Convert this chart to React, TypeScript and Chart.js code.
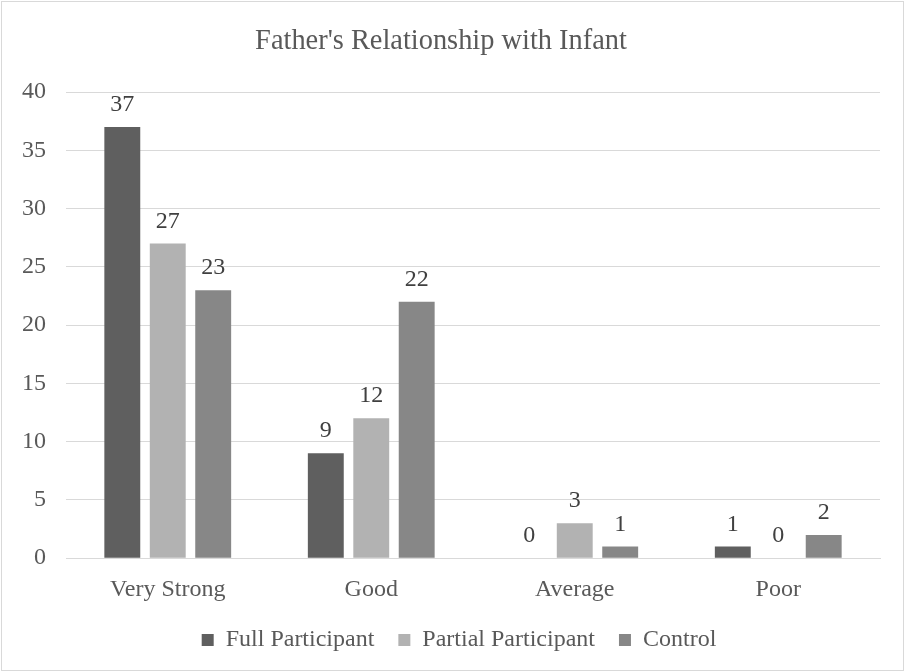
import React, { useEffect, useRef } from "react";
import { Chart, registerables } from "chart.js";

Chart.register(...registerables);

const categories = ["Very Strong", "Good", "Average", "Poor"];
const fullParticipant = [37, 9, 0, 1];
const partialParticipant = [27, 12, 3, 0];
const control = [23, 22, 1, 2];
const seriesNames = ["Full Participant", "Partial Participant", "Control"];
const titleText = "Father's Relationship with Infant";

const FONT = "'Liberation Serif', 'Times New Roman', serif";
const TEXT = "#595959";

const valueLabels = {
  id: "valueLabels",
  afterDatasetsDraw(chart: any) {
    const ctx = chart.ctx;
    ctx.save();
    ctx.font = `24px ${FONT}`;
    ctx.fillStyle = "#404040";
    ctx.textAlign = "center";
    ctx.textBaseline = "alphabetic";
    chart.data.datasets.forEach((ds: any, i: number) => {
      const meta = chart.getDatasetMeta(i);
      meta.data.forEach((bar: any, j: number) => {
        ctx.fillText(String(ds.data[j]), bar.x, bar.y - 16);
      });
    });
    ctx.restore();
  },
};

const outerBorder = {
  id: "outerBorder",
  beforeDraw(chart: any) {
    const ctx = chart.ctx;
    ctx.save();
    ctx.fillStyle = "#ffffff";
    ctx.fillRect(0, 0, chart.width, chart.height);
    ctx.strokeStyle = "#d9d9d9";
    ctx.lineWidth = 1;
    ctx.strokeRect(1.5, 1.5, chart.width - 3, chart.height - 3);
    ctx.restore();
  },
};

const legendShift = {
  id: "legendShift",
  afterLayout(chart: any) {
    if (chart.legend) {
      chart.legend.left += 18;
      chart.legend.right += 18;
    }
  },
};

export default function App() {
  const ref = useRef<HTMLCanvasElement>(null);
  useEffect(() => {
    const chart = new Chart(ref.current!, {
      type: "bar",
      data: {
        labels: categories,
        datasets: [
          { label: seriesNames[0], data: fullParticipant, backgroundColor: "#5f5f5f" },
          { label: seriesNames[1], data: partialParticipant, backgroundColor: "#b2b2b2" },
          { label: seriesNames[2], data: control, backgroundColor: "#878787" },
        ],
      },
      options: {
        responsive: false,
        animation: false,
        devicePixelRatio: 1,
        datasets: { bar: { categoryPercentage: 0.67, barPercentage: 0.79 } },
        layout: { padding: { left: 2, right: 25, top: 25, bottom: 10 } },
        plugins: {
          title: {
            display: true,
            text: titleText,
            color: TEXT,
            font: { family: FONT, size: 28.4, weight: "normal" },
            padding: { top: 0, bottom: 33 },
          },
          legend: {
            position: "bottom",
            labels: {
              color: TEXT,
              font: { family: FONT, size: 24 },
              boxWidth: 12,
              boxHeight: 12,
              padding: 24,
            },
          },
          tooltip: { enabled: false },
        },
        scales: {
          x: {
            grid: { display: false, drawTicks: false },
            border: { color: "#d9d9d9" },
            ticks: { color: TEXT, font: { family: FONT, size: 24 }, padding: 17 },
            afterFit(scale: any) {
              scale.height -= 17;
            },
          },
          y: {
            min: 0,
            max: 40,
            ticks: { stepSize: 5, color: TEXT, font: { family: FONT, size: 24 }, padding: 20 },
            grid: { color: "#d9d9d9", drawTicks: false },
            border: { display: false },
          },
        },
      },
      plugins: [valueLabels, outerBorder, legendShift],
    } as any);
    return () => chart.destroy();
  }, []);
  return (
    <div style={{ position: "fixed", left: 0, top: 0 }}>
      <canvas ref={ref} width={905} height={672} style={{ display: "block", width: 905, height: 672 }} />
    </div>
  );
}
